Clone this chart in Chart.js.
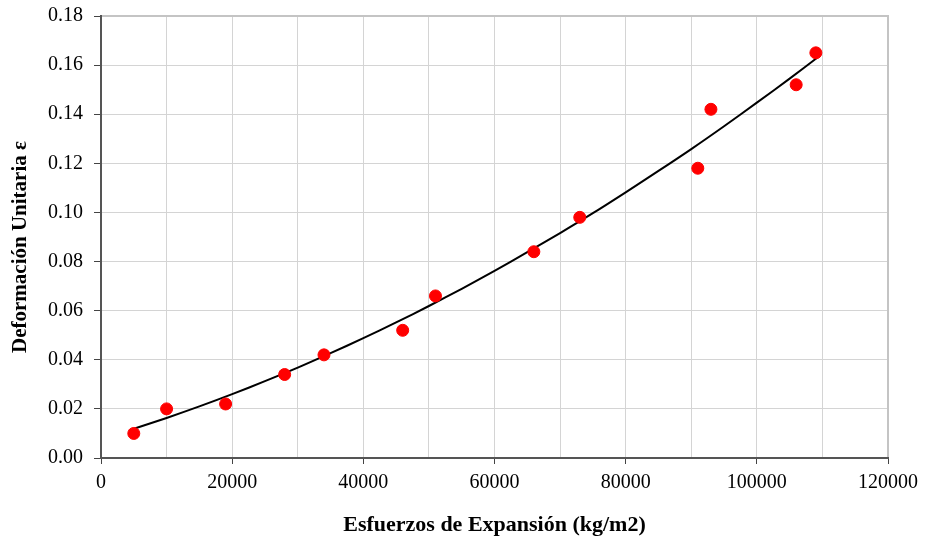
<!DOCTYPE html>
<html>
<head>
<meta charset="utf-8">
<script src="https://cdn.jsdelivr.net/npm/chart.js@4"></script>
<style>
  html, body { margin: 0; padding: 0; background: #fff; }
  #wrap { width: 925px; height: 542px; }
</style>
</head>
<body>
<div id="wrap"><canvas id="c" width="925" height="542"></canvas></div>
<script>
// Measured data points (esfuerzo kg/m2, deformación unitaria)
const stressX = [5000, 10000, 19000, 28000, 34000, 46000, 51000, 66000, 73000, 91000, 93000, 106000, 109000];
const strainY = [0.010, 0.020, 0.022, 0.034, 0.042, 0.052, 0.066, 0.084, 0.098, 0.118, 0.142, 0.152, 0.165];

// Trend line points
const trendX = [4900, 10000, 15000, 20000, 25000, 30000, 35000, 40000, 45000, 50000, 55000, 60000, 65000, 70000, 75000, 80000, 85000, 90000, 95000, 100000, 105000, 109300];
const trendY = [0.0118, 0.0163, 0.0210, 0.0260, 0.0313, 0.0368, 0.0427, 0.0488, 0.0552, 0.0619, 0.0689, 0.0762, 0.0838, 0.0916, 0.0997, 0.1082, 0.1169, 0.1258, 0.1351, 0.1447, 0.1545, 0.1632];

const xTitle = 'Esfuerzos de Expansión (kg/m2)';
const yTitle = 'Deformación Unitaria ε';

const pts = stressX.map((x, i) => ({ x: x, y: strainY[i] }));
const trend = trendX.map((x, i) => ({ x: x, y: trendY[i] }));

const serif = '"Liberation Serif", "Times New Roman", serif';
const font = { family: serif, size: 20 };

const frame = {
  id: 'frame',
  afterDraw(chart) {
    const { ctx, chartArea: a } = chart;
    ctx.save();
    ctx.strokeStyle = '#c4c4c4';
    ctx.lineWidth = 2;
    ctx.beginPath();
    ctx.moveTo(a.left, a.top);
    ctx.lineTo(a.right, a.top);
    ctx.lineTo(a.right, a.bottom);
    ctx.stroke();
    ctx.strokeStyle = '#555';
    ctx.lineWidth = 2;
    ctx.beginPath();
    ctx.moveTo(a.left, a.top - 1);
    ctx.lineTo(a.left, a.bottom);
    ctx.lineTo(a.right + 1, a.bottom);
    ctx.stroke();
    // y axis title (rotated), slightly below the plot centre as in the reference
    ctx.fillStyle = '#000';
    ctx.font = 'bold 21px ' + serif;
    ctx.textAlign = 'center';
    ctx.textBaseline = 'middle';
    ctx.translate(21, (a.top + a.bottom) / 2 + 10);
    ctx.rotate(-Math.PI / 2);
    ctx.fillText(yTitle, 0, 0);
    ctx.restore();
  }
};

new Chart(document.getElementById('c'), {
  type: 'scatter',
  data: {
    datasets: [
      {
        type: 'line',
        data: trend,
        borderColor: '#000',
        borderWidth: 2,
        pointRadius: 0,
        fill: false,
        tension: 0.3,
        order: 2
      },
      {
        data: pts,
        backgroundColor: '#ff0000',
        borderColor: '#ff0000',
        pointRadius: 6,
        pointHoverRadius: 6,
        order: 1
      }
    ]
  },
  options: {
    responsive: false,
    animation: false,
    events: [],
    layout: { padding: { top: 16, right: 37, left: 0, bottom: 0 } },
    plugins: { legend: { display: false }, tooltip: { enabled: false } },
    scales: {
      x: {
        type: 'linear',
        min: 0, max: 120000,
        afterFit: s => { s.height = 84; s.paddingLeft = 0; s.paddingRight = 0; },
        border: { display: false },
        grid: {
          color: '#d4d4d4',
          lineWidth: 1,
          tickLength: 6,
          tickColor: c => (c.tick && c.tick.value % 20000 === 0) ? '#444' : 'rgba(0,0,0,0)'
        },
        ticks: {
          stepSize: 10000,
          autoSkip: false,
          maxRotation: 0,
          padding: 7,
          color: '#000',
          font: font,
          callback: v => (v % 20000 === 0 ? String(v) : '')
        },
        title: { display: true, text: xTitle, color: '#000', font: { family: serif, size: 22, weight: 'bold' }, padding: { top: 0, bottom: 3 } }
      },
      y: {
        type: 'linear',
        min: 0, max: 0.18,
        afterFit: s => { s.width = 101; s.paddingTop = 0; s.paddingBottom = 0; },
        border: { display: false },
        grid: { color: '#d4d4d4', lineWidth: 1, tickLength: 7, tickColor: '#444' },
        ticks: {
          stepSize: 0.02,
          padding: 11,
          color: '#000',
          font: font,
          callback: v => v.toFixed(2)
        },
        title: { display: false, text: yTitle }
      }
    }
  },
  plugins: [frame]
});
</script>
</body>
</html>
